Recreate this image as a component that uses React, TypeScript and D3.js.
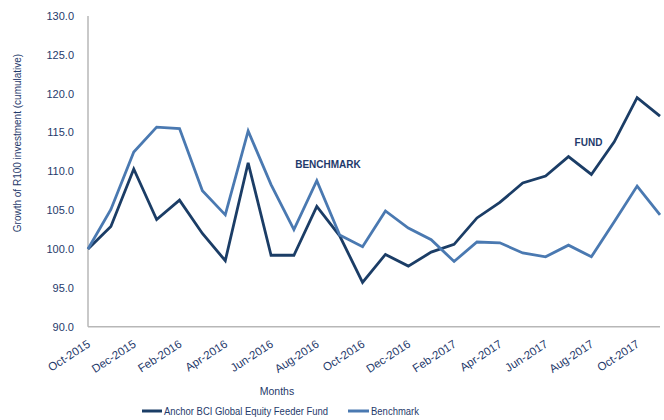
import React from 'react';
import * as d3 from 'd3';

// months on the x axis (monthly points)
const months = [
  'Oct-2015', 'Nov-2015', 'Dec-2015', 'Jan-2016', 'Feb-2016', 'Mar-2016', 'Apr-2016',
  'May-2016', 'Jun-2016', 'Jul-2016', 'Aug-2016', 'Sep-2016', 'Oct-2016', 'Nov-2016',
  'Dec-2016', 'Jan-2017', 'Feb-2017', 'Mar-2017', 'Apr-2017', 'May-2017', 'Jun-2017',
  'Jul-2017', 'Aug-2017', 'Sep-2017', 'Oct-2017', 'Nov-2017',
];

const fundValues = [
  100.0, 102.9, 110.3, 103.8, 106.3, 102.0, 98.5, 111.1, 99.2, 99.2, 105.5, 101.7, 95.7,
  99.3, 97.8, 99.6, 100.6, 104.0, 106.0, 108.5, 109.4, 111.9, 109.6, 113.8, 119.5, 117.1,
];

const benchValues = [
  100.0, 105.1, 112.5, 115.7, 115.5, 107.5, 104.4, 115.2, 108.3, 102.5, 108.8, 101.8, 100.3,
  104.9, 102.7, 101.2, 98.4, 100.9, 100.8, 99.5, 99.0, 100.5, 99.0, 103.5, 108.1, 104.4,
];

const yTicks = [90, 95, 100, 105, 110, 115, 120, 125, 130];

const seriesNames = ['Anchor BCI Global Equity Feeder Fund', 'Benchmark'];
const seriesColors = ['#1b3d66', '#4a79b1'];

const textColor = '#1f3a6b';
const font = "'Liberation Sans', Arial, sans-serif";

export default function App() {
  const width = 664;
  const height = 420;
  const left = 88;
  const right = 660;
  const top = 16;
  const bottom = 326.7;

  const x = d3.scalePoint<string>().domain(months).range([left, right]);
  const y = d3.scaleLinear().domain([90, 130]).range([bottom, top]);

  const line = d3.line<number>()
    .x((_, i) => x(months[i]) || 0)
    .y(d => y(d));

  // every second month gets a label
  const xLabels = months.filter((_, i) => i % 2 === 0);

  return (
    <svg
      width={width}
      height={height}
      style={{ position: 'absolute', left: 0, top: 0, background: '#fff' }}
      fontFamily={font}
    >
      {/* axes */}
      <line x1={left} x2={left} y1={top} y2={bottom} stroke="#b7b7b7" strokeWidth={1.5} />
      <line x1={left} x2={right} y1={bottom} y2={bottom} stroke="#b7b7b7" strokeWidth={1.5} />

      {/* y tick labels */}
      {yTicks.map(t => (
        <text
          key={t}
          x={74}
          y={y(t)}
          dy="0.35em"
          textAnchor="end"
          fontSize={11}
          fill={textColor}
        >
          {t.toFixed(1)}
        </text>
      ))}

      {/* x tick labels */}
      {xLabels.map(m => (
        <text
          key={m}
          transform={`translate(${(x(m) || 0) + 3},346) rotate(-33)`}
          textAnchor="end"
          fontSize={11.5}
          fill={textColor}
        >
          {m}
        </text>
      ))}

      {/* lines */}
      <path d={line(fundValues) || ''} fill="none" stroke={seriesColors[0]} strokeWidth={2.8} />
      <path d={line(benchValues) || ''} fill="none" stroke={seriesColors[1]} strokeWidth={2.8} />

      {/* annotations */}
      <text x={328} y={164} dy="0.35em" textAnchor="middle" fontSize={10} fontWeight="bold" fill={textColor}>
        BENCHMARK
      </text>
      <text x={588.5} y={142} dy="0.35em" textAnchor="middle" fontSize={10} fontWeight="bold" fill={textColor}>
        FUND
      </text>

      {/* axis titles */}
      <text
        transform="translate(17,143) rotate(-90)"
        textAnchor="middle"
        dy="0.35em"
        fontSize={10}
        fill={textColor}
      >
        Growth of R100 investment (cumulative)
      </text>
      <text x={277} y={391} dy="0.35em" textAnchor="middle" fontSize={10.5} fill={textColor}>
        Months
      </text>

      {/* legend */}
      <line x1={142} x2={162} y1={411} y2={411} stroke={seriesColors[0]} strokeWidth={3} />
      <text x={164} y={411} dy="0.35em" fontSize={10.5} textLength={164} lengthAdjust="spacingAndGlyphs" fill={textColor}>
        {seriesNames[0]}
      </text>
      <line x1={348} x2={369} y1={411} y2={411} stroke={seriesColors[1]} strokeWidth={3} />
      <text x={371} y={411} dy="0.35em" fontSize={10.5} textLength={48} lengthAdjust="spacingAndGlyphs" fill={textColor}>
        {seriesNames[1]}
      </text>
    </svg>
  );
}
